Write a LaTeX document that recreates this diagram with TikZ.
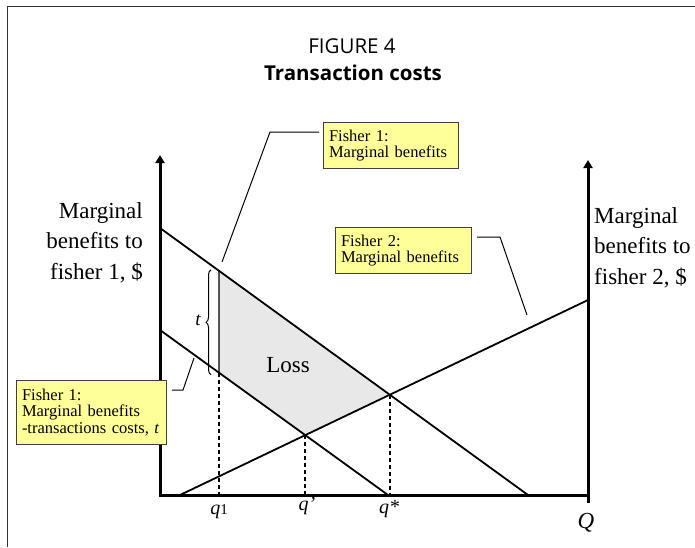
\documentclass[tikz,border=0pt]{standalone}
\usepackage{fontspec}
\setmainfont{Liberation Serif}
\newfontfamily\titlefont{Open Sans}
\usetikzlibrary{arrows.meta,decorations.pathreplacing}
\definecolor{boxyellow}{HTML}{FFFF99}
\definecolor{lossgray}{HTML}{E8E8E8}
\begin{document}
\begin{tikzpicture}[x=1pt,y=-1pt,
  frame/.style={line width=1pt, draw=black!80},
  axis/.style={line width=3pt},
  axisarrow/.style={axis, -{Triangle[length=8pt,width=9pt]}},
  curve/.style={line width=1.8pt},
  guide/.style={line width=1.8pt, dash pattern=on 4pt off 3pt},
  callout/.style={line width=1pt},
  note/.style={draw=black!75, fill=boxyellow, line width=1pt, anchor=north west,
    align=left, font=\fontsize{16.5}{16.5}\selectfont,
    inner xsep=5.5pt, inner ysep=0pt},
  axlabel/.style={font=\fontsize{23}{30.5}\selectfont, inner sep=0pt},
  qlabel/.style={font=\fontsize{20}{20}\selectfont\itshape, inner sep=0pt, anchor=base},
  titletext/.style={font=\titlefont\fontsize{20.5}{22}\selectfont, inner sep=0pt, anchor=base}
]
\useasboundingbox (0,0) rectangle (695,547);

% frame
\draw[frame] (7,547) -- (7,6) -- (695,6);

% title
\node[titletext] (title1) at (352,53) {FIGURE 4};
\node[titletext, font=\titlefont\bfseries\fontsize{20.5}{22}\selectfont] (title2) at (353,80) {Transaction costs};

% geometry
\coordinate (O) at (160,495);
\coordinate (Ytop) at (160,155);
\coordinate (R0) at (588,503);
\coordinate (Rtop) at (588,160);
\coordinate (Xend) at (588,495);
\coordinate (A1) at (160,228);
\coordinate (B1) at (528,495);
\coordinate (A2) at (160,330);
\coordinate (B2) at (388,495);
\coordinate (A3) at (180,495);
\coordinate (B3) at (588,300);
\coordinate (V1) at (219,100);
\coordinate (V2) at (219,495);
\coordinate (P1) at (intersection of A1--B1 and V1--V2);
\coordinate (P2) at (intersection of A2--B2 and V1--V2);
\coordinate (Qp) at (intersection of A2--B2 and A3--B3);
\coordinate (Qs) at (intersection of A1--B1 and A3--B3);

% loss area
\fill[lossgray] (P1) -- (P2) -- (Qp) -- (Qs) -- cycle;
\draw[line width=1.2pt] (P1) -- (P2);

% guides
\draw[guide] (P2) -- (P2 |- O);
\draw[guide] (Qp) -- (Qp |- O);
\draw[guide] (Qs) -- (Qs |- O);

% curves
\draw[curve] (A1) -- (B1);
\draw[curve] (A2) -- (B2);
\draw[curve] (A3) -- (B3);

% axes
\draw[axisarrow] (O) -- (Ytop);
\draw[axis] ([xshift=-1.5pt]O) -- (Xend);
\draw[axisarrow] (R0) -- (Rtop);

% brace
\draw[line width=1pt, decorate, decoration={brace, amplitude=5pt}]
  ([xshift=-8pt,yshift=-2pt]P2) -- ([xshift=-8pt,yshift=1pt]P1);
\node[font=\fontsize{19}{19}\selectfont\itshape, inner sep=0pt] (tlab) at (198,320) {t};

% axis labels
\node[axlabel, anchor=north east, align=right] (ylab1) at (143,202)
  {Marginal\\benefits to\\fisher 1, \$};
\node[axlabel, anchor=north west, align=left] (ylab2) at (594,207)
  {Marginal\\benefits to\\fisher 2, \$};
\node[font=\fontsize{23}{23}\selectfont, inner sep=0pt, anchor=base] (loss) at (288,372) {Loss};

% quantity labels
\node[qlabel] (q1) at (219,514) {q\textup{\fontsize{15}{15}\selectfont 1}};
\node[qlabel] (qprime) at (307,510) {q’};
\node[qlabel] (qstar) at (389,513) {q*};
\node[qlabel, font=\fontsize{23}{23}\selectfont\itshape] (Qlab) at (586,528) {Q};

% callout boxes
\node[note, minimum width=135pt, minimum height=46pt, text width=124pt] (n1) at (323,122)
  {Fisher 1:\\Marginal benefits};
\node[note, minimum width=136pt, minimum height=46pt, text width=125pt] (n2) at (335,227)
  {Fisher 2:\\Marginal benefits};
\node[note, minimum width=150pt, minimum height=64pt, text width=139pt] (n3) at (16,380)
  {Fisher 1:\\Marginal benefits\\-transactions costs, \textit{t}};

% callout leaders
\coordinate (c1a) at (319,132);
\coordinate (c1b) at (270,132);
\coordinate (c1c) at (222,262);
\draw[callout] (c1a) -- (c1b) -- (c1c);
\coordinate (c2a) at (477,237);
\coordinate (c2b) at (500,237);
\coordinate (c2c) at (527,315);
\draw[callout] (c2a) -- (c2b) -- (c2c);
\coordinate (c3a) at (172,390);
\coordinate (c3b) at (183,390);
\coordinate (c3c) at (194,358);
\draw[callout] (c3a) -- (c3b) -- (c3c);
\end{tikzpicture}
\end{document}
